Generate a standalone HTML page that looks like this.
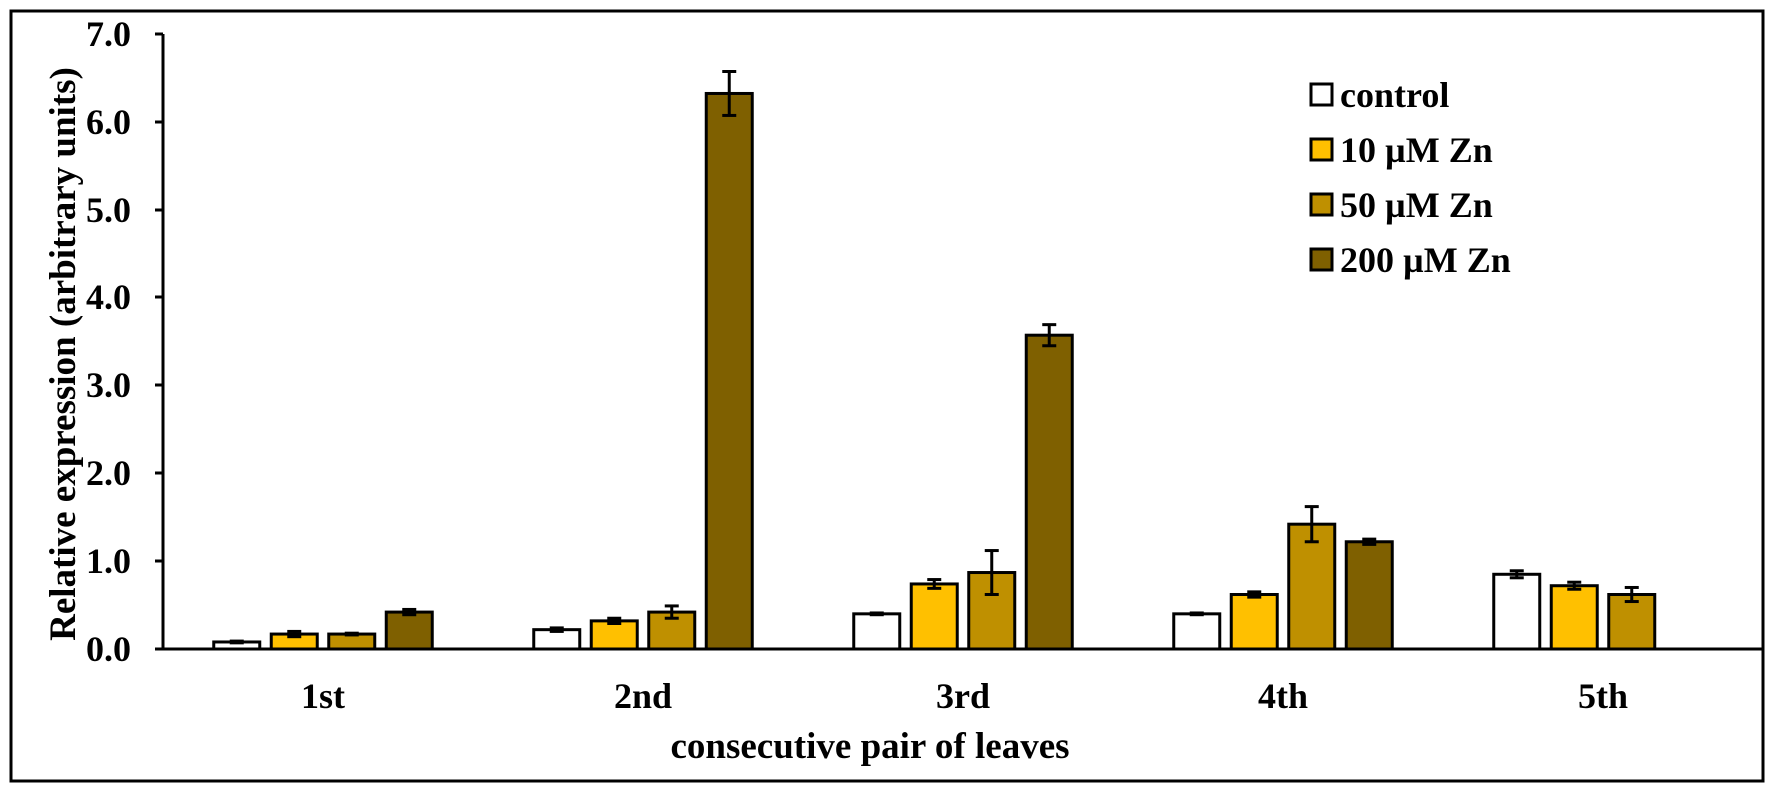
<!DOCTYPE html>
<html><head><meta charset="utf-8"><style>
html,body{margin:0;padding:0;background:#fff;}
svg{display:block;}
text{font-family:"Liberation Serif",serif;font-weight:bold;fill:#000;}
</style></head><body>
<svg width="1772" height="792" viewBox="0 0 1772 792" xmlns="http://www.w3.org/2000/svg">
<rect x="11" y="11" width="1752" height="770" fill="#fff" stroke="#000" stroke-width="3"/>
<g id="bars" stroke="#000" stroke-width="3"></g>
<g stroke="#000" stroke-width="3">
<line x1="163" y1="34" x2="163" y2="649"/>
<line x1="155" y1="649" x2="1763" y2="649"/>
<line x1="155" y1="34" x2="163" y2="34"/>
<line x1="155" y1="122" x2="163" y2="122"/>
<line x1="155" y1="210" x2="163" y2="210"/>
<line x1="155" y1="297" x2="163" y2="297"/>
<line x1="155" y1="385" x2="163" y2="385"/>
<line x1="155" y1="473" x2="163" y2="473"/>
<line x1="155" y1="561" x2="163" y2="561"/>
</g>
<g font-size="36" text-anchor="end">
<text x="131" y="46">7.0</text>
<text x="131" y="134">6.0</text>
<text x="131" y="222">5.0</text>
<text x="131" y="309">4.0</text>
<text x="131" y="397">3.0</text>
<text x="131" y="485">2.0</text>
<text x="131" y="573">1.0</text>
<text x="131" y="661">0.0</text>
</g>
<g font-size="36" text-anchor="middle">
<text x="323" y="708">1st</text>
<text x="643" y="708">2nd</text>
<text x="963" y="708">3rd</text>
<text x="1283" y="708">4th</text>
<text x="1603" y="708">5th</text>
</g>
<g font-size="37" text-anchor="middle">
<text x="870" y="758">consecutive pair of leaves</text>
<text transform="translate(75,354) rotate(-90)">Relative expression (arbitrary units)</text>
</g>
<g stroke="#000" stroke-width="3">
<rect x="1311" y="84" width="21" height="21" fill="#fff"/>
<rect x="1311" y="139" width="21" height="21" fill="#FFC000"/>
<rect x="1311" y="194" width="21" height="21" fill="#BF9000"/>
<rect x="1311" y="249" width="21" height="21" fill="#7F6000"/>
</g>
<g font-size="36">
<text x="1340" y="107">control</text>
<text x="1340" y="162">10 µM Zn</text>
<text x="1340" y="217">50 µM Zn</text>
<text x="1340" y="272">200 µM Zn</text>
</g>
</svg>
<script>
var data=[[[0.08,0.01],[0.17,0.03],[0.17,0.01],[0.42,0.03]],
[[0.22,0.02],[0.32,0.03],[0.42,0.07],[6.32,0.25]],
[[0.40,0.01],[0.74,0.05],[0.87,0.25],[3.57,0.12]],
[[0.40,0.01],[0.62,0.03],[1.42,0.2],[1.22,0.03]],
[[0.85,0.04],[0.72,0.04],[0.62,0.08]]];
var cols=["#fff","#FFC000","#BF9000","#7F6000"];
var g=document.getElementById("bars"),s="";
var Y=function(v){return 649-v*87.9;};
for(var i=0;i<5;i++){var c=163+320*(i+0.5);
for(var j=0;j<data[i].length;j++){var cx=c+(j-1.5)*57.5,v=data[i][j][0],e=data[i][j][1];
s+='<rect x="'+(cx-23)+'" y="'+Y(v)+'" width="46" height="'+(v*87.9)+'" fill="'+cols[j]+'"/>';
s+='<line x1="'+cx+'" y1="'+Y(v+e)+'" x2="'+cx+'" y2="'+Y(v-e)+'"/>';
s+='<line x1="'+(cx-7)+'" y1="'+Y(v+e)+'" x2="'+(cx+7)+'" y2="'+Y(v+e)+'"/>';
s+='<line x1="'+(cx-7)+'" y1="'+Y(v-e)+'" x2="'+(cx+7)+'" y2="'+Y(v-e)+'"/>';}}
g.innerHTML=s;
</script>
</body></html>
